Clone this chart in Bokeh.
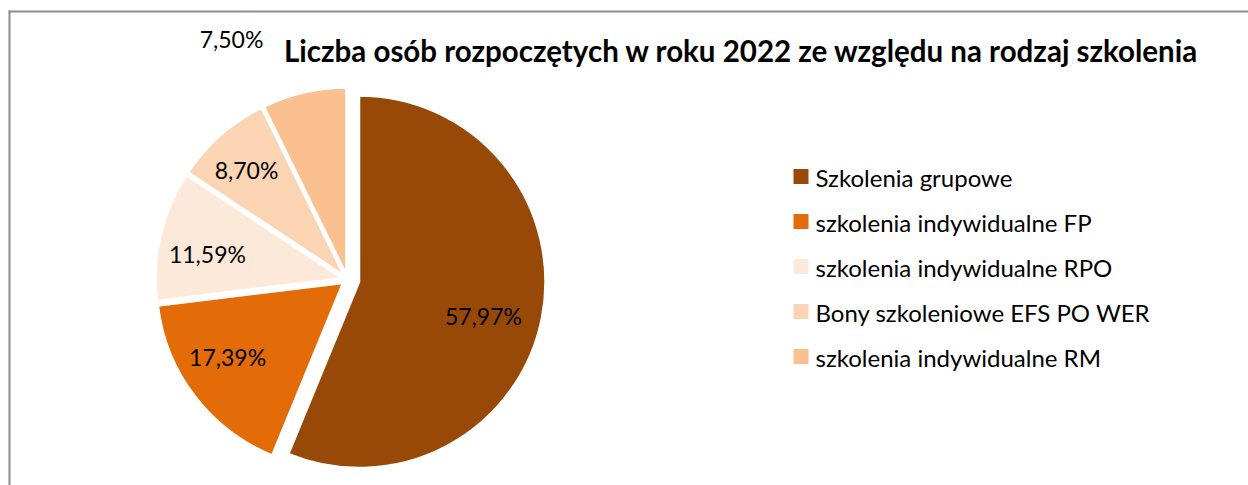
import numpy as np
from bokeh.plotting import figure
from bokeh.models import Range1d
from bokeh.core.properties import value
from bokeh.embed import file_html
from bokeh.resources import INLINE

# ---------------- data ----------------
title = "Liczba osób rozpoczętych w roku 2022 ze względu na rodzaj szkolenia"
categories = [
    "Szkolenia grupowe",
    "szkolenia indywidualne FP",
    "szkolenia indywidualne RPO",
    "Bony szkoleniowe EFS PO WER",
    "szkolenia indywidualne RM",
]
values = [57.97, 17.39, 11.59, 8.70, 7.50]
colors = ["#984807", "#E36C09", "#FDE9D9", "#FBD4B4", "#FAC090"]
labels = [f"{v:.2f}".replace(".", ",") + "%" for v in values]

# ---------------- layout helpers ----------------
W, H = 1248, 485


def X(px):
    return px


def Y(py):
    return H - py


p = figure(width=W, height=H, x_range=Range1d(0, W), y_range=Range1d(0, H),
           output_backend="svg", toolbar_location=None, min_border=0,
           x_axis_location=None, y_axis_location=None)
p.grid.visible = False
p.outline_line_color = None
p.background_fill_color = "white"
p.border_fill_color = "white"

# chart border (top and left edges visible in the crop)
p.segment(x0=[X(8), X(9)], y0=[Y(11), Y(10)], x1=[X(W), X(9)], y1=[Y(11), Y(H)],
          line_color="#8c8c8c", line_width=2)

# ---------------- pie ----------------
vals = np.array(values)
frac = vals / vals.sum()
ends = np.cumsum(frac) * 2 * np.pi          # clockwise from 12 o'clock
starts = ends - frac * 2 * np.pi
mids = (starts + ends) / 2
std_start = np.pi / 2 - starts
std_end = np.pi / 2 - ends
std_mid = np.pi / 2 - mids

explode = np.array([12, 6, 6, 6, 6])
cx, cy, r = X(347), Y(279), 186
xs = cx + explode * np.cos(std_mid)
ys = cy + explode * np.sin(std_mid)

p.wedge(x=xs, y=ys, radius=r, start_angle=std_start, end_angle=std_end,
        direction="clock", fill_color=colors, line_color="white", line_width=2)

# data labels (positioned along each slice, as in the original layout)
lab_frac = np.array([0.693, 0.734, 0.733, 0.767, 0.72])
lab_dang = np.radians([4.4, 4.8, -3.2, -1.5, 0.0])   # clockwise shift
ang = std_mid - lab_dang
lx = xs + lab_frac * r * np.cos(ang)
ly = ys + lab_frac * r * np.sin(ang)
lx[4], ly[4] = X(231), Y(38)   # label moved outside, near the title
p.text(x=lx, y=ly, text=labels, text_align="center", text_baseline="middle",
       text_font=value("Lato"), text_font_size="23px", text_color="black")

# title
p.text(x=[X(741)], y=[Y(50)], text=[title], text_align="center", text_baseline="middle",
       text_font=value("Lato"), text_font_style="bold", text_font_size="29.5px", text_color="black")

# legend
idx = np.arange(len(categories))
leg_y = Y(177 + 45 * idx)
p.scatter(x=[X(800.5)] * len(categories), y=leg_y + 1, marker="square", size=15,
          fill_color=colors, line_color=None)
p.text(x=[X(815)] * len(categories), y=leg_y, text=categories, text_align="left",
       text_baseline="middle", text_font=value("Lato"), text_font_size="24px",
       text_color="black")

open("out.html", "w").write(file_html(p, INLINE))
